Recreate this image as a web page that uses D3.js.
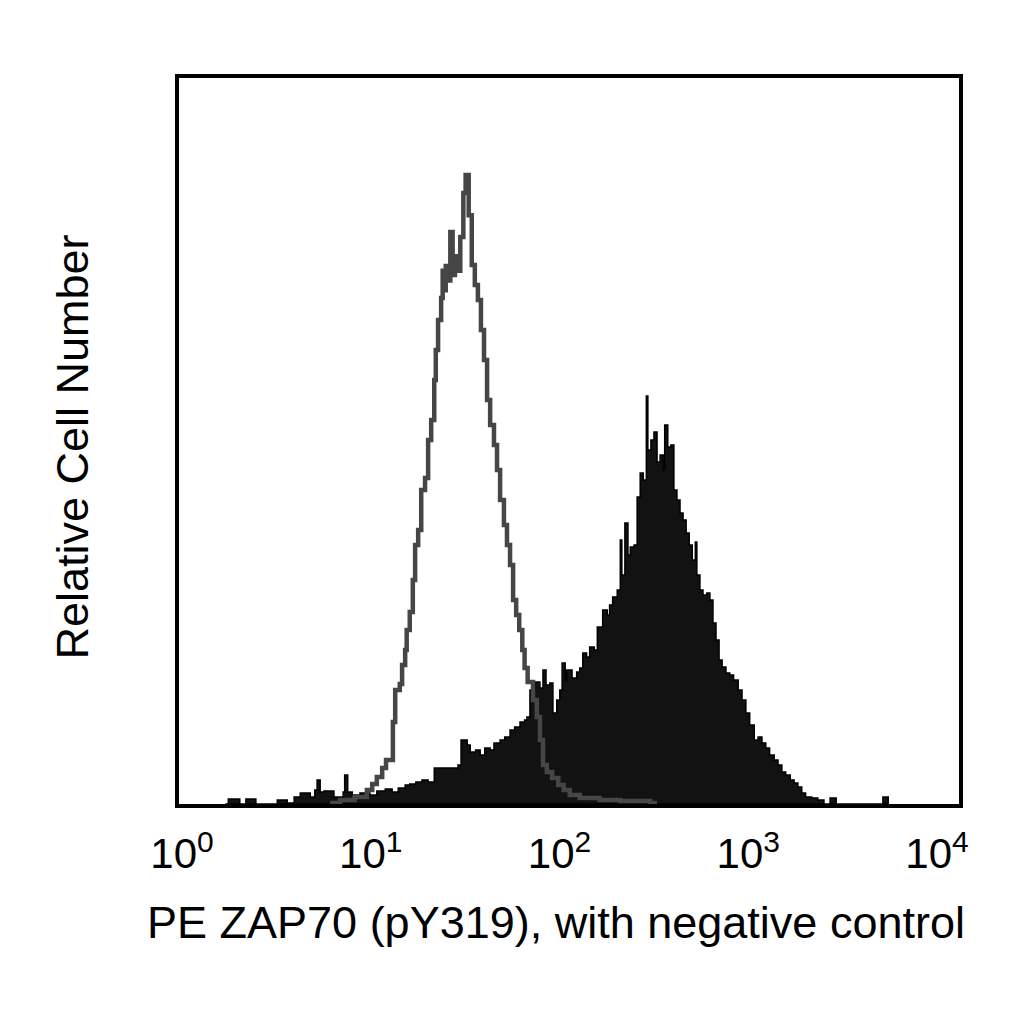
<!DOCTYPE html>
<html>
<head>
<meta charset="utf-8">
<script src="https://cdn.jsdelivr.net/npm/d3@7/dist/d3.min.js"></script>
<style>
  html, body { margin: 0; padding: 0; background: #fff; }
  svg { display: block; }
  text { font-family: "Liberation Sans", Arial, Helvetica, sans-serif; fill: #000; }
</style>
</head>
<body>
<svg id="chart" width="1024" height="1024"></svg>
<script>
// ---- Data (channel 0..1024 spans 4 log decades; counts are relative) ----
const channelsPerDecade = 256;

// Negative control (grey outline): step start channel, relative count
const controlChannels = [200, 213, 232, 248, 255, 261, 268, 273, 282, 285, 291, 294, 298, 300, 304, 308, 311, 315, 319, 324, 328, 332, 336, 338, 341, 345, 347, 349, 351, 353, 357, 360, 363, 366, 370, 374, 377, 381, 385, 389, 393, 397, 401, 405, 409, 414, 418, 422, 427, 431, 435, 439, 443, 447, 451, 454, 458, 465, 470, 474, 478, 483, 490, 498, 505, 513, 526, 552, 579, 618, 624];
const controlCounts   = [0.4, 1.7, 2.9, 5.8, 8.3, 11.1, 14.9, 18.2, 33.8, 47.0, 49.5, 57.4, 63.5, 71.8, 79.2, 92.4, 106.9, 113.1, 129.6, 134.5, 150.2, 158.5, 175.0, 187.3, 199.7, 208.8, 220.0, 212.0, 222.0, 216.0, 236.0, 218.3, 226.0, 220.0, 234.0, 252.1, 259.6, 243.0, 222.4, 214.2, 208.0, 195.6, 183.2, 166.7, 156.4, 148.1, 137.8, 125.4, 115.1, 106.9, 98.6, 84.2, 78.0, 71.8, 63.5, 56.1, 50.3, 42.9, 35.9, 26.4, 16.1, 13.2, 10.7, 7.8, 5.8, 3.7, 2.5, 1.7, 1.2, 0.4, 0];

// PE ZAP70 (pY319) stained sample (black filled)
const sampleChannels = [63, 67, 82, 90, 103, 131, 144, 153, 161, 174, 180, 183, 187, 192, 205, 217, 219, 223, 229, 239, 252, 261, 272, 281, 289, 298, 304, 312, 320, 328, 336, 367, 371, 379, 383, 390, 396, 402, 409, 414, 422, 428, 435, 441, 448, 454, 457, 461, 468, 474, 478, 482, 487, 491, 496, 500, 503, 507, 509, 516, 522, 526, 530, 535, 539, 545, 549, 556, 562, 565, 569, 575, 579, 581, 585, 589, 592, 597, 601, 605, 609, 613, 615, 619, 623, 627, 631, 635, 637, 641, 645, 649, 653, 657, 661, 665, 669, 673, 677, 679, 683, 687, 692, 696, 700, 704, 708, 712, 717, 722, 727, 733, 738, 743, 748, 754, 759, 764, 769, 774, 780, 785, 790, 795, 801, 806, 811, 816, 821, 829, 837, 845, 853, 861, 922, 929];
const sampleCounts   = [0, 2.1, 0, 2.1, 0, 1.7, 0.4, 2.9, 4.5, 2.9, 5.8, 9.9, 5.0, 5.4, 2.9, 5.0, 12.0, 5.0, 3.7, 4.5, 3.7, 5.4, 6.2, 5.0, 6.6, 7.8, 8.3, 9.1, 9.9, 9.1, 14.9, 16.1, 26.4, 24.3, 21.5, 22.3, 20.2, 23.1, 22.3, 25.2, 26.4, 27.6, 30.5, 31.8, 33.8, 34.7, 35.9, 47.0, 50.3, 47.9, 55.3, 49.1, 49.9, 37.6, 42.9, 47.0, 58.2, 51.2, 55.3, 52.0, 54.5, 56.1, 62.3, 60.7, 64.8, 63.5, 73.0, 80.1, 78.0, 82.1, 85.4, 88.3, 108.9, 94.5, 116.0, 102.7, 106.1, 106.9, 126.7, 136.6, 133.7, 168.4, 146.1, 150.2, 153.5, 141.1, 144.0, 137.8, 156.4, 147.3, 148.1, 129.6, 125.4, 120.1, 117.2, 111.8, 106.9, 100.7, 108.1, 94.5, 88.3, 86.2, 87.1, 84.2, 74.7, 67.7, 59.4, 56.5, 54.1, 53.2, 51.2, 47.0, 42.9, 37.6, 32.6, 26.4, 27.6, 25.2, 23.1, 20.2, 18.2, 16.1, 13.2, 12.0, 9.9, 8.7, 7.0, 4.5, 2.9, 2.5, 1.7, 0, 2.5, 0, 2.9, 0];

const tickExponents = [0, 1, 2, 3, 4];
const xTitle = "PE ZAP70 (pY319), with negative control";
const yTitle = "Relative Cell Number";

// ---- Layout ----
const plot = { left: 177, right: 961, top: 76, bottom: 806 };
const baseline = 804;

const svg = d3.select("#chart");

const x = d3.scaleLog().domain([1, 1e4]).range([plot.left, plot.right]);
const labelX = d3.scaleLog().domain([1, 1e4]).range([182, 937]);
const y = d3.scaleLinear().domain([0, 300]).range([baseline, 77]);

const toValue = c => Math.pow(10, c / channelsPerDecade);

const sample = sampleChannels.map((c, i) => ({ v: toValue(c), n: sampleCounts[i] }));
const control = controlChannels.map((c, i) => ({ v: toValue(c), n: controlCounts[i] }));

svg.append("rect").attr("width", 1024).attr("height", 1024).attr("fill", "#fff");

svg.append("clipPath").attr("id", "plotclip")
  .append("rect")
  .attr("x", plot.left).attr("y", plot.top)
  .attr("width", plot.right - plot.left).attr("height", plot.bottom - plot.top);

const g = svg.append("g").attr("clip-path", "url(#plotclip)");

const area = d3.area()
  .x(d => x(d.v))
  .y0(y(0))
  .y1(d => y(d.n))
  .curve(d3.curveStepAfter);

g.append("path")
  .datum(sample)
  .attr("d", area)
  .attr("fill", "#121212")
  .attr("stroke", "#000")
  .attr("stroke-width", 1.5)
  .attr("stroke-linejoin", "miter");

const line = d3.line()
  .x(d => x(d.v))
  .y(d => y(d.n))
  .curve(d3.curveStepAfter);

g.append("path")
  .datum(control)
  .attr("d", line)
  .attr("fill", "none")
  .attr("stroke", "#464646")
  .attr("stroke-width", 4.5)
  .attr("stroke-linejoin", "miter");

// frame
svg.append("rect")
  .attr("x", plot.left).attr("y", plot.top)
  .attr("width", plot.right - plot.left).attr("height", plot.bottom - plot.top)
  .attr("fill", "none").attr("stroke", "#000").attr("stroke-width", 4);

// tick labels
const tl = svg.append("g").selectAll("text").data(tickExponents).join("text")
  .attr("x", d => labelX(Math.pow(10, d)))
  .attr("y", 868)
  .attr("text-anchor", "middle")
  .attr("font-size", 42);
tl.append("tspan").text("10");
tl.append("tspan").attr("dy", -16).attr("font-size", 30).text(d => d);

svg.append("text")
  .attr("x", 556).attr("y", 938)
  .attr("text-anchor", "middle")
  .attr("font-size", 45)
  .text(xTitle);

svg.append("text")
  .attr("transform", "translate(88,447) rotate(-90)")
  .attr("text-anchor", "middle")
  .attr("font-size", 45)
  .text(yTitle);
</script>
</body>
</html>
